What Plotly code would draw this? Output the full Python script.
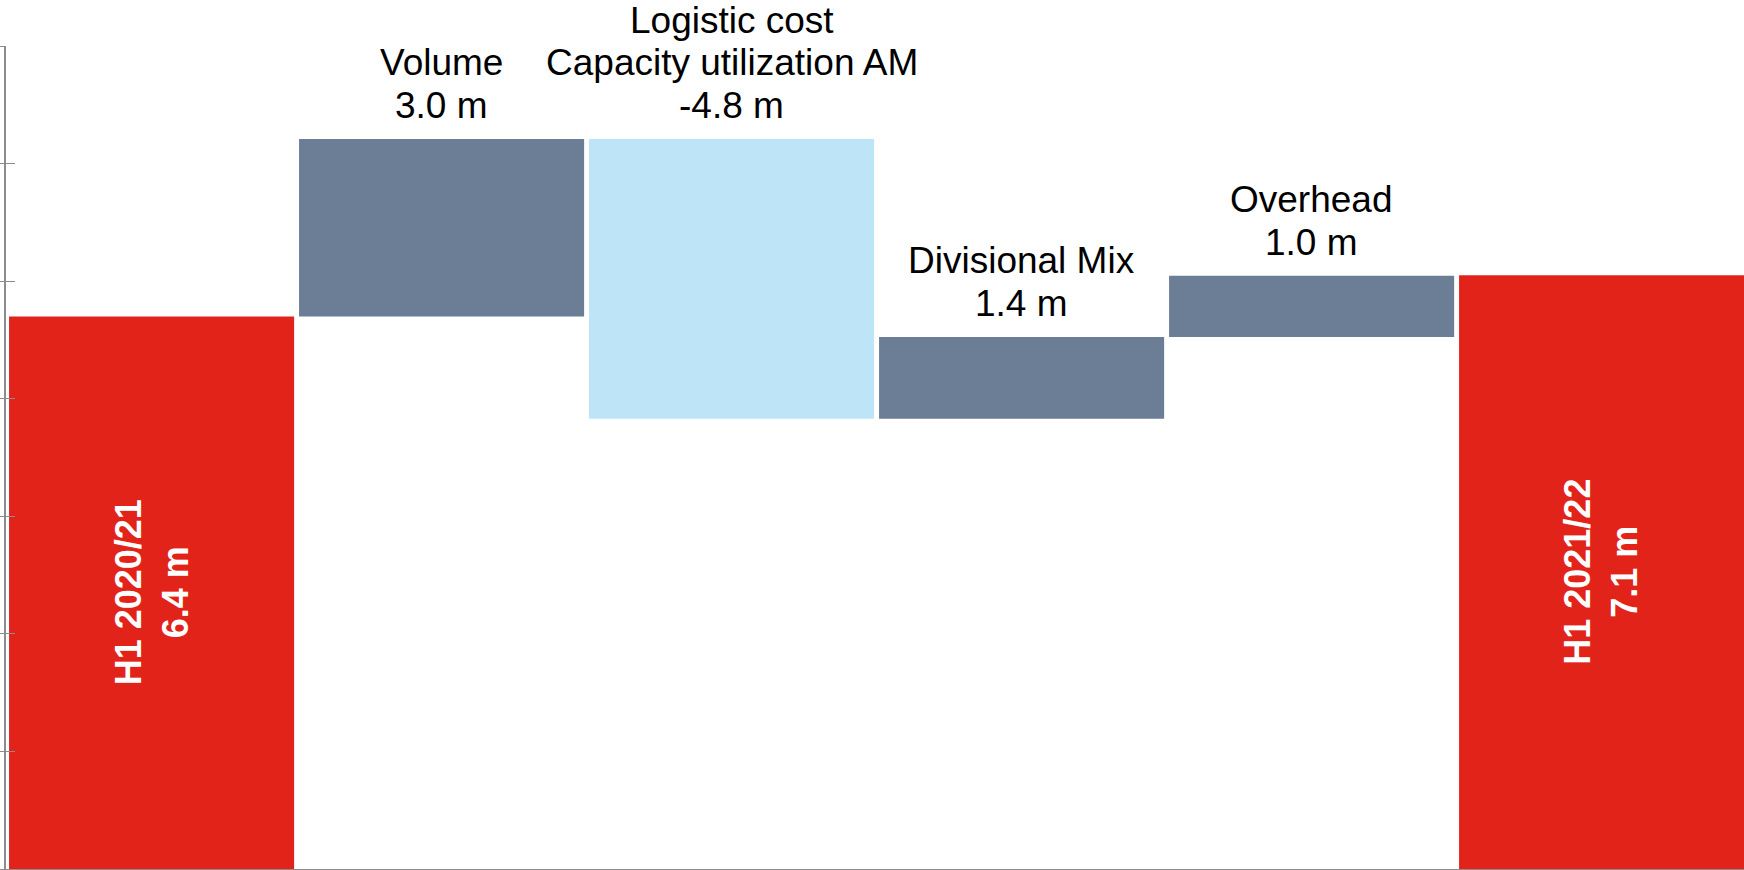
import plotly.graph_objects as go

# ---- data ----
categories = ["H1 2020/21", "Volume", "Logistic cost", "Divisional Mix", "Overhead", "H1 2021/22"]
label_lines = [["H1 2020/21"], ["Volume"], ["Logistic cost", "Capacity utilization AM"],
               ["Divisional Mix"], ["Overhead"], ["H1 2021/22"]]
values = [6.4, 3.02, -4.76, 1.39, 1.04, 7.1]
kinds = ["total", "delta", "delta", "delta", "delta", "total"]
unit = "m"

# ---- style ----
RED = "#E2231A"
SLATE = "#6C7D96"
LIGHT = "#BEE4F8"
AXIS_GRAY = "#8C8C8C"
FONT = "Liberation Sans, Arial, sans-serif"
Y_MIN, Y_MAX = -3, 11
LINE_SP = 42.5
LABEL_GAP = 11

bases, heights, colors = [], [], []
running = 0.0
for v, k in zip(values, kinds):
    if k == "total":
        bases.append(Y_MIN)
        heights.append(v - Y_MIN)
        colors.append(RED)
        running = v
    else:
        bases.append(running)
        heights.append(v)
        colors.append(SLATE if v >= 0 else LIGHT)
        running += v

fig = go.Figure()
fig.add_trace(go.Bar(
    x=categories, y=heights, base=bases, width=0.983,
    marker=dict(color=colors, line=dict(width=0)),
    hoverinfo="skip", showlegend=False,
))

annotations = []
for cat, lines, v, k, b, h in zip(categories, label_lines, values, kinds, bases, heights):
    if k == "total":
        txt = "<b>" + "<br>".join(lines + [f"{v:.1f} {unit}"]) + "</b>"
        annotations.append(dict(
            x=cat, y=b + h / 2, xref="x", yref="y", text=txt, textangle=-90,
            showarrow=False, xanchor="center", yanchor="middle",
            font=dict(family=FONT, size=36, color="white"),
        ))
    else:
        top = max(b, b + v)
        all_lines = lines + [f"{v:.1f} {unit}"]
        n = len(all_lines)
        for i, ln in enumerate(all_lines):
            annotations.append(dict(
                x=cat, y=top, xref="x", yref="y", text=ln,
                showarrow=False, xanchor="center", yanchor="bottom",
                yshift=LABEL_GAP + (n - 1 - i) * LINE_SP,
                font=dict(family=FONT, size=37, color="black"),
            ))

fig.update_layout(
    width=1744, height=870,
    margin=dict(l=6, r=0, t=46, b=1, pad=0),
    paper_bgcolor="white", plot_bgcolor="white",
    bargap=0.017,
    annotations=annotations,
    xaxis=dict(
        type="category", range=[-0.502, 5.491],
        showline=True, linecolor=AXIS_GRAY, linewidth=2,
        showticklabels=False, ticks="", showgrid=False, zeroline=False,
    ),
    yaxis=dict(
        range=[Y_MIN, Y_MAX], showline=True, linecolor=AXIS_GRAY, linewidth=1.5,
        ticks="outside", ticklen=6, tickcolor=AXIS_GRAY, tickwidth=1.2,
        tick0=Y_MIN, dtick=2, showticklabels=False, showgrid=False, zeroline=False,
    ),
    yaxis2=dict(
        overlaying="y", side="left", range=[Y_MIN, Y_MAX], showline=False,
        ticks="inside", ticklen=9, tickcolor=AXIS_GRAY, tickwidth=1.2,
        tick0=Y_MIN, dtick=2, showticklabels=False, showgrid=False, zeroline=False,
    ),
)
# invisible helper trace so that the second (inside-tick) axis is drawn
fig.add_trace(go.Scatter(x=[categories[0]], y=[Y_MIN], yaxis="y2", mode="markers",
                         marker=dict(opacity=0), hoverinfo="skip", showlegend=False))

fig.write_html("out.html")
